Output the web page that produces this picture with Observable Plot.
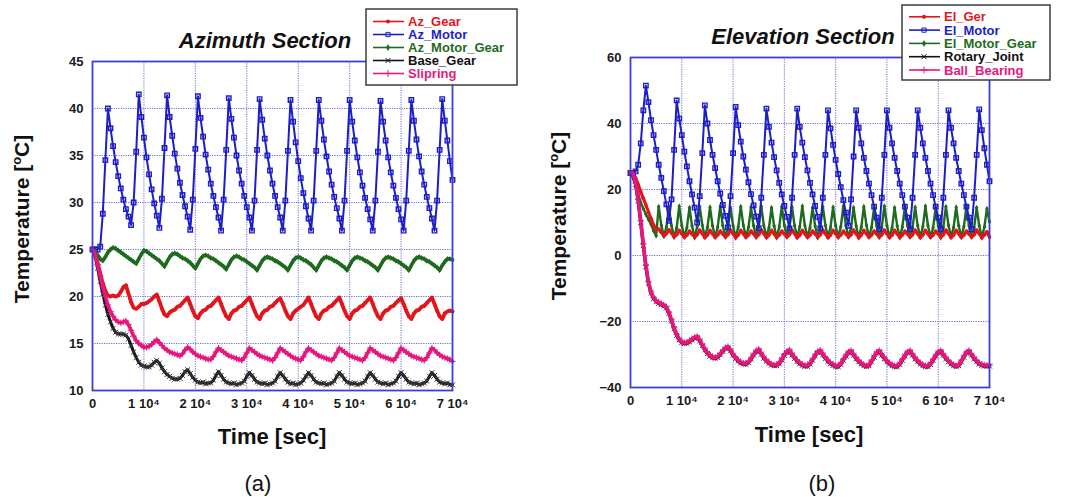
<!DOCTYPE html>
<html><head><meta charset="utf-8">
<script src="https://cdn.jsdelivr.net/npm/d3@7"></script>
<script src="https://cdn.jsdelivr.net/npm/@observablehq/plot@0.6"></script>
<style>
body{margin:0;background:#fff;}
#wrap{position:relative;width:1065px;height:497px;overflow:hidden;background:#fff;font-family:"Liberation Sans",Arial,sans-serif;}
#wrap > .panel{position:absolute;top:0;}
#overlay{position:absolute;left:0;top:0;pointer-events:none;}
</style>
</head><body>
<div id="wrap"></div>
<script>
// ---------- data ----------
const timeSec = [0,500,1000,1500,2000,2500,3000,3500,4000,4500,5000,5500,6000,6500,7000,7500,8000,8500,9000,9500,
10000,10500,11000,11500,12000,12500,13000,13500,14000,14500,15000,15500,16000,16500,17000,17500,18000,18500,19000,19500,
20000,20500,21000,21500,22000,22500,23000,23500,24000,24500,25000,25500,26000,26500,27000,27500,28000,28500,29000,29500,
30000,30500,31000,31500,32000,32500,33000,33500,34000,34500,35000,35500,36000,36500,37000,37500,38000,38500,39000,39500,
40000,40500,41000,41500,42000,42500,43000,43500,44000,44500,45000,45500,46000,46500,47000,47500,48000,48500,49000,49500,
50000,50500,51000,51500,52000,52500,53000,53500,54000,54500,55000,55500,56000,56500,57000,57500,58000,58500,59000,59500,
60000,60500,61000,61500,62000,62500,63000,63500,64000,64500,65000,65500,66000,66500,67000,67500,68000,68500,69000,69500,70000];

const azGear = [25.0,24.6,23.6,22.5,21.4,20.6,20.1,20.0,20.1,20.0,
20.1,20.5,21.0,21.2,20.3,19.4,18.8,18.7,18.9,19.2,
19.2,19.3,19.5,19.7,20.0,20.2,19.5,18.7,18.1,17.9,
18.3,18.5,18.6,18.9,19.0,19.3,19.6,19.9,19.2,18.5,
17.9,17.7,18.2,18.5,18.6,18.9,19.0,19.3,19.6,19.9,
19.2,18.5,17.9,17.6,18.2,18.5,18.6,18.9,19.0,19.3,
19.6,19.9,19.2,18.5,17.9,17.6,18.2,18.5,18.6,18.9,
19.0,19.3,19.6,19.8,19.2,18.5,17.9,17.6,18.2,18.5,
18.7,18.9,19.1,19.5,19.9,19.2,18.5,17.9,17.6,18.2,
18.5,18.6,18.9,19.0,19.3,19.6,19.9,19.2,18.5,17.9,
17.6,18.2,18.5,18.6,18.9,19.0,19.3,19.6,19.9,19.2,
18.5,17.9,17.6,18.2,18.5,18.6,18.9,19.0,19.3,19.6,
19.8,19.2,18.5,17.9,17.6,18.2,18.5,18.6,18.9,19.0,
19.3,19.6,19.9,19.2,18.5,17.9,17.6,18.2,18.4,18.5,18.4];

const azMotor = [25.0,25.0,25.0,25.3,28.8,34.5,40.0,37.9,36.0,34.3,
32.8,31.5,30.3,29.3,28.5,27.6,30.0,35.4,41.5,39.1,
36.9,34.8,33.0,31.4,29.9,28.6,27.3,30.4,35.8,41.4,
39.1,37.1,35.2,33.6,32.1,30.8,29.6,28.5,27.1,30.3,
35.7,41.3,39.0,37.0,35.1,33.5,32.0,30.7,29.5,28.4,
27.0,30.3,35.6,41.1,38.9,36.9,35.0,33.4,32.0,30.7,
29.5,28.4,27.0,30.2,35.6,41.0,38.8,36.8,35.0,33.4,
32.0,30.7,29.5,28.4,27.0,30.2,35.5,40.9,38.6,36.4,
34.4,32.6,31.0,29.6,28.3,27.0,30.2,35.5,40.9,38.7,
36.7,34.9,33.3,31.9,30.6,29.4,28.3,27.0,30.2,35.5,
40.9,38.6,36.6,34.8,33.2,31.8,30.5,29.3,28.2,27.0,
30.2,35.4,40.8,38.6,36.6,34.8,33.2,31.8,30.5,29.3,
28.2,27.0,30.2,35.5,40.9,38.7,36.7,34.9,33.3,31.9,
30.6,29.4,28.3,27.0,30.2,35.6,41.0,38.7,36.6,34.4,32.4];

const azMotorGear = [25.0,24.8,24.4,24.0,23.8,24.2,24.7,25.0,25.2,25.1,
24.9,24.7,24.5,24.3,24.1,23.9,23.7,23.5,24.0,24.5,
24.9,24.8,24.6,24.4,24.2,24.0,23.8,23.5,23.2,23.7,
24.2,24.5,24.6,24.5,24.3,24.1,24.0,23.8,23.6,23.3,
23.0,23.5,24.0,24.3,24.4,24.3,24.1,24.0,23.8,23.6,
23.4,23.2,22.9,23.4,23.9,24.2,24.3,24.2,24.0,23.9,
23.7,23.5,23.3,23.1,22.8,23.3,23.8,24.1,24.2,24.1,
24.0,23.8,23.7,23.5,23.3,23.1,22.8,23.3,23.8,24.1,
24.2,24.1,23.9,23.8,23.6,23.4,23.1,22.8,23.3,23.8,
24.1,24.2,24.1,24.0,23.8,23.7,23.5,23.3,23.1,22.8,
23.3,23.8,24.1,24.2,24.1,24.0,23.8,23.7,23.5,23.3,
23.1,22.8,23.3,23.8,24.1,24.2,24.1,24.0,23.8,23.7,
23.5,23.3,23.1,22.8,23.3,23.8,24.1,24.2,24.1,24.0,
23.8,23.7,23.5,23.3,23.1,22.8,23.3,23.7,24.0,24.0,23.9];

const baseGear = [25.0,24.3,23.0,21.6,20.3,19.1,18.1,17.3,16.6,16.2,
16.0,16.0,16.0,15.9,15.5,14.8,14.1,13.5,13.0,12.7,
12.6,12.5,12.5,12.7,13.0,13.2,12.9,12.4,12.0,11.7,
11.5,11.3,11.2,11.2,11.3,11.6,12.0,12.2,11.8,11.4,
11.1,10.9,10.8,10.9,10.7,10.8,10.8,11.1,11.6,12.0,
11.6,11.2,10.9,10.8,10.7,10.8,10.6,10.7,10.8,11.0,
11.5,11.9,11.6,11.2,10.9,10.8,10.7,10.8,10.6,10.7,
10.8,11.0,11.5,11.9,11.6,11.2,10.9,10.7,10.8,10.6,
10.7,10.8,11.1,11.5,11.9,11.6,11.2,10.9,10.8,10.7,
10.8,10.6,10.7,10.8,11.0,11.5,11.9,11.6,11.2,10.9,
10.8,10.7,10.8,10.6,10.7,10.8,11.0,11.5,11.9,11.6,
11.2,10.9,10.8,10.7,10.8,10.6,10.7,10.8,11.0,11.5,
11.9,11.6,11.2,10.9,10.8,10.7,10.8,10.6,10.7,10.8,
11.0,11.5,11.9,11.6,11.2,10.9,10.8,10.7,10.8,10.6,10.6];

const slipring = [25.0,24.5,23.4,22.2,21.0,20.0,19.1,18.4,17.9,17.5,
17.3,17.2,17.3,17.4,17.0,16.4,15.8,15.3,15.0,14.8,
14.6,14.6,14.7,14.9,15.2,15.4,15.1,14.8,14.5,14.3,
14.1,14.0,13.9,13.8,13.7,13.9,14.3,14.6,14.4,14.1,
13.9,13.7,13.6,13.5,13.4,13.3,13.3,13.6,14.1,14.5,
14.3,14.1,13.9,13.7,13.6,13.5,13.4,13.3,13.2,13.5,
14.0,14.5,14.3,14.1,13.9,13.7,13.6,13.5,13.4,13.3,
13.2,13.5,14.0,14.5,14.3,14.1,13.9,13.7,13.5,13.4,
13.3,13.2,13.6,14.1,14.5,14.3,14.1,13.9,13.7,13.6,
13.5,13.4,13.3,13.2,13.5,14.0,14.5,14.3,14.1,13.9,
13.7,13.6,13.5,13.4,13.3,13.2,13.5,14.0,14.5,14.3,
14.1,13.9,13.7,13.6,13.5,13.4,13.3,13.2,13.5,14.0,
14.5,14.3,14.1,13.9,13.7,13.6,13.5,13.4,13.3,13.2,
13.5,14.0,14.5,14.3,14.0,13.8,13.6,13.5,13.4,13.3,13.1];

const elGer = [25.0,24.6,23.5,21.5,19.3,17.3,15.3,13.2,11.2,9.2,
7.8,8.0,7.0,6.0,6.6,7.8,6.8,5.7,6.3,7.6,
6.6,5.5,6.2,7.4,6.5,5.6,6.3,7.7,6.6,5.4,
6.2,7.6,6.6,5.5,6.2,7.4,6.5,5.6,6.3,7.7,
6.6,5.4,6.2,7.6,6.6,5.5,6.2,7.4,6.5,5.6,
6.3,7.7,6.6,5.4,6.2,7.6,6.6,5.5,6.2,7.4,
6.5,5.6,6.3,7.7,6.6,5.4,6.2,7.6,6.6,5.5,
6.2,7.4,6.5,5.6,6.3,7.7,6.6,5.4,6.2,7.6,
6.6,5.5,6.2,7.4,6.5,5.6,6.3,7.7,6.6,5.4,
6.2,7.6,6.6,5.5,6.2,7.4,6.5,5.6,6.3,7.7,
6.6,5.4,6.2,7.6,6.6,5.5,6.2,7.4,6.5,5.6,
6.3,7.7,6.6,5.4,6.2,7.6,6.6,5.5,6.2,7.4,
6.5,5.6,6.3,7.7,6.6,5.4,6.2,7.6,6.6,5.5,
6.2,7.4,6.5,5.6,6.3,7.7,6.6,5.4,6.2,7.2,5.6];

const elMotor = [25.0,25.0,25.5,27.5,34.0,44.0,51.5,46.5,41.0,36.5,
32.0,27.5,23.5,19.5,15.5,10.5,17.0,32.0,47.0,41.5,
36.5,31.5,27.0,22.5,18.5,14.5,10.0,18.0,31.0,45.5,
40.0,35.0,30.5,26.5,22.5,18.8,15.3,12.0,8.5,18.0,
31.0,45.0,39.5,34.5,30.0,26.0,22.2,18.6,15.2,11.8,
8.3,17.5,30.5,44.5,39.0,34.2,29.8,25.8,22.0,18.5,
15.0,11.7,8.2,17.5,30.5,44.5,39.0,34.2,29.8,25.8,
22.0,18.5,15.0,11.7,8.2,17.5,30.5,44.0,38.5,33.5,
29.0,24.7,20.7,16.8,13.0,9.0,17.0,30.0,44.0,38.7,
34.0,29.6,25.6,21.8,18.3,14.8,11.5,8.0,17.5,30.5,
44.0,38.7,34.0,29.6,25.6,21.8,18.3,14.8,11.5,8.0,
17.5,30.5,44.0,38.7,34.0,29.6,25.6,21.8,18.3,14.8,
11.5,8.0,17.5,30.5,44.0,38.7,34.0,29.6,25.6,21.8,
18.3,14.8,11.5,8.0,17.5,30.5,44.3,38.0,32.5,27.5,22.5];

const elMotorGear = [25.0,23.5,21.0,18.5,16.0,14.2,12.5,11.0,9.5,7.5,
6.0,14.8,9.2,5.8,8.6,14.6,9.0,5.5,8.4,14.9,
9.1,5.6,8.5,14.5,9.0,5.4,8.7,14.8,9.2,5.6,
8.5,14.6,9.0,5.5,8.6,14.9,9.1,5.6,8.4,14.5,
9.0,5.4,8.6,14.8,9.2,5.6,8.5,14.6,9.0,5.5,
8.7,14.9,9.1,5.6,8.4,14.5,9.0,5.4,8.6,14.8,
9.2,5.6,8.5,14.6,9.0,5.5,8.7,14.9,9.1,5.6,
8.4,14.5,9.0,5.4,8.6,14.8,9.2,5.6,8.5,14.6,
9.0,5.5,8.7,14.9,9.1,5.6,8.4,14.5,9.0,5.4,
8.6,14.8,9.2,5.6,8.5,14.6,9.0,5.5,8.7,14.9,
9.1,5.6,8.4,14.5,9.0,5.4,8.6,14.8,9.2,5.6,
8.5,14.6,9.0,5.5,8.7,14.9,9.1,5.6,8.4,14.5,
9.0,5.4,8.6,14.8,9.2,5.6,8.5,14.6,9.0,5.5,
8.7,14.9,9.1,5.6,8.4,14.5,9.0,5.4,8.6,14.2,10.2];

const rotaryJoint = [25.0,24.5,21.6,16.5,10.0,3.0,-3.4,-8.4,-11.3,-13.1,
-14.0,-14.5,-14.9,-15.3,-15.9,-17.5,-19.8,-22.2,-24.2,-25.6,
-26.4,-26.7,-26.6,-26.2,-25.6,-25.1,-24.8,-25.9,-27.3,-28.6,
-29.7,-30.5,-31.0,-31.2,-30.9,-30.1,-29.1,-28.3,-27.9,-28.9,
-30.2,-31.2,-32.0,-32.6,-32.9,-33.0,-32.5,-31.4,-30.2,-29.2,
-28.7,-29.9,-31.1,-32.0,-32.7,-33.2,-33.4,-33.4,-32.8,-31.6,
-30.3,-29.4,-28.9,-30.1,-31.2,-32.1,-32.8,-33.3,-33.6,-33.6,
-32.9,-31.7,-30.4,-29.4,-29.0,-30.1,-31.2,-32.1,-32.8,-33.3,
-33.7,-33.7,-33.0,-31.8,-30.5,-29.5,-29.1,-30.2,-31.3,-32.2,
-32.9,-33.4,-33.7,-33.4,-32.2,-30.8,-29.6,-29.1,-30.2,-31.3,
-32.2,-32.9,-33.4,-33.7,-33.7,-33.0,-31.8,-30.5,-29.5,-29.1,
-30.2,-31.3,-32.2,-32.9,-33.4,-33.7,-33.7,-33.0,-31.8,-30.5,
-29.5,-29.1,-30.2,-31.3,-32.2,-32.9,-33.4,-33.7,-33.4,-32.2,
-30.8,-29.6,-29.1,-30.2,-31.3,-32.2,-32.9,-33.3,-33.5,-33.6,-33.5];

const ballBearing = [25.2,24.8,22.0,17.0,10.5,3.5,-3.0,-8.0,-11.0,-12.8,
-13.7,-14.2,-14.6,-15.0,-15.6,-17.2,-19.5,-21.9,-23.9,-25.3,
-26.1,-26.4,-26.3,-25.9,-25.3,-24.8,-24.5,-25.6,-27.0,-28.3,
-29.4,-30.2,-30.7,-30.9,-30.6,-29.8,-28.8,-28.0,-27.6,-28.6,
-29.9,-30.9,-31.7,-32.3,-32.6,-32.7,-32.2,-31.1,-29.9,-28.9,
-28.4,-29.6,-30.8,-31.7,-32.4,-32.9,-33.1,-33.1,-32.5,-31.3,
-30.0,-29.1,-28.6,-29.8,-30.9,-31.8,-32.5,-33.0,-33.3,-33.3,
-32.6,-31.4,-30.1,-29.1,-28.7,-29.8,-30.9,-31.8,-32.5,-33.0,
-33.4,-33.4,-32.7,-31.5,-30.2,-29.2,-28.8,-29.9,-31.0,-31.9,
-32.6,-33.1,-33.4,-33.1,-31.9,-30.5,-29.3,-28.8,-29.9,-31.0,
-31.9,-32.6,-33.1,-33.4,-33.4,-32.7,-31.5,-30.2,-29.2,-28.8,
-29.9,-31.0,-31.9,-32.6,-33.1,-33.4,-33.4,-32.7,-31.5,-30.2,
-29.2,-28.8,-29.9,-31.0,-31.9,-32.6,-33.1,-33.4,-33.1,-31.9,
-30.5,-29.3,-28.8,-29.9,-31.0,-31.9,-32.6,-33.0,-33.2,-33.3,-33.2];

const xTicks = [0,10000,20000,30000,40000,50000,60000,70000];
const xTickLabels = ["0","1 10\u2074","2 10\u2074","3 10\u2074","4 10\u2074","5 10\u2074","6 10\u2074","7 10\u2074"];
const azYTicks = [10,15,20,25,30,35,40,45];
const elYTicks = [-40,-20,0,20,40,60];

const azNames = ["Az_Gear","Az_Motor","Az_Motor_Gear","Base_Gear","Slipring"];
const elNames = ["El_Ger","El_Motor","El_Motor_Gear","Rotary_Joint","Ball_Bearing"];
const seriesColors = ["#e3151b","#1e1ec8","#1e6a1e","#111111","#e6177e"];
const seriesSymbols = ["circle","square","diamond","times","plus"];

// ---------- drawing ----------
const gridColor = "#6b6be0";
const frameColor = "#3d3dd4";
const FONT = '"Liberation Sans", Arial, sans-serif';

function rowsOf(values){ return timeSec.map((t,i)=>({t, v: values[i]})); }

function makePanel(p){
  const marks = [
    Plot.gridX(xTicks, {stroke: gridColor, strokeOpacity: 1, strokeWidth: 1, strokeDasharray: "1.2,1.2"}),
    Plot.gridY(p.yTicks, {stroke: gridColor, strokeOpacity: 1, strokeWidth: 1, strokeDasharray: "1.2,1.2"})
  ];
  p.order.forEach(k => {
    const rows = rowsOf(p.values[k]);
    const col = seriesColors[k];
    const sym = seriesSymbols[k];
    marks.push(Plot.line(rows, {x: "t", y: "v", stroke: col, strokeWidth: p.lineWidths[k], strokeLinejoin: "round"}));
    const filled = (sym === "circle" || sym === "diamond");
    marks.push(Plot.dot(rows, {x: "t", y: "v", symbol: sym, r: p.dotR[k],
      fill: filled ? col : "none", stroke: filled ? "none" : (k === 3 ? "#3a3a3a" : col), strokeWidth: k === 1 ? 1.4 : 1}));
  });
  marks.push(Plot.frame({stroke: frameColor, strokeWidth: 1.8}));
  marks.push(Plot.axisX(xTicks, {tickSize: 0, tickPadding: 8, label: null,
    tickFormat: d => xTickLabels[xTicks.indexOf(d)]}));
  marks.push(Plot.axisY(p.yTicks, {tickSize: 0, tickPadding: 9, label: null}));
  const svg = Plot.plot({
    width: 530, height: 497,
    marginTop: p.mt, marginRight: p.mr, marginBottom: p.mb, marginLeft: p.ml,
    x: {domain: [0, 70000]},
    y: {domain: p.yDomain},
    style: {fontFamily: FONT, fontSize: "13px", fontWeight: "bold", color: "#1a1a1a", background: "transparent", overflow: "visible"},
    marks
  });
  svg.classList.add("panel");
  svg.style.position = "absolute";
  svg.style.left = p.left + "px";
  svg.style.top = "0px";
  return svg;
}

const wrap = document.getElementById("wrap");

wrap.appendChild(makePanel({
  left: 0, ml: 92, mr: 78, mt: 61, mb: 107,
  yDomain: [10, 45], yTicks: azYTicks,
  values: [azGear, azMotor, azMotorGear, baseGear, slipring],
  order: [0, 1, 2, 3, 4],
  lineWidths: [3.8, 2.0, 3.6, 3.0, 3.6],
  dotR: [1.8, 2.5, 1.8, 2.4, 2.2]
}));

wrap.appendChild(makePanel({
  left: 535, ml: 95, mr: 76, mt: 57, mb: 110,
  yDomain: [-40, 60], yTicks: elYTicks,
  values: [elGer, elMotor, elMotorGear, rotaryJoint, ballBearing],
  order: [2, 0, 1, 3, 4],
  lineWidths: [3.2, 2.0, 2.4, 3.4, 3.6],
  dotR: [1.8, 2.5, 1.8, 2.4, 2.2]
}));

// ---------- overlay texts & legends ----------
const ov = d3.select(wrap).append("svg").attr("id", "overlay")
  .attr("width", 1065).attr("height", 497)
  .style("font-family", FONT);

function title(x, y, txt){
  ov.append("text").attr("x", x).attr("y", y).attr("text-anchor", "middle")
    .attr("font-size", 22).attr("font-weight", "bold").attr("font-style", "italic")
    .attr("fill", "#111").text(txt);
}
title(265, 48, "Azimuth Section");
title(803, 44, "Elevation Section");

function ylab(x, y){
  const t = ov.append("text").attr("transform", `translate(${x},${y}) rotate(-90)`)
    .attr("text-anchor", "middle").attr("font-size", 21).attr("font-weight", "bold").attr("fill", "#111");
  t.append("tspan").text("Temperature [");
  t.append("tspan").attr("dy", -8).attr("font-size", 13).text("o");
  t.append("tspan").attr("dy", 8).text("C]");
}
ylab(29, 219);
ylab(566, 216);

function xlab(x, y){
  ov.append("text").attr("x", x).attr("y", y).attr("text-anchor", "middle")
    .attr("font-size", 22).attr("font-weight", "bold").attr("fill", "#111").text("Time [sec]");
}
xlab(272, 444);
xlab(809, 442);

function sub(x, y, txt){
  ov.append("text").attr("x", x).attr("y", y).attr("text-anchor", "middle")
    .attr("font-size", 22).attr("fill", "#111").text(txt);
}
sub(258, 491, "(a)");
sub(822, 491, "(b)");

const symMap = {circle: d3.symbolCircle, square: d3.symbolSquare, diamond: d3.symbolDiamond, times: d3.symbolTimes, plus: d3.symbolPlus};

function legend(bx, by, bw, bh, names, rowY0, rowStep){
  const g = ov.append("g");
  g.append("rect").attr("x", bx).attr("y", by).attr("width", bw).attr("height", bh)
    .attr("fill", "#fff").attr("stroke", "#3c3c3c").attr("stroke-width", 1.5);
  names.forEach((nm, k) => {
    const cy = rowY0 + k * rowStep;
    const col = seriesColors[k];
    g.append("line").attr("x1", bx + 7).attr("x2", bx + 38).attr("y1", cy).attr("y2", cy)
      .attr("stroke", col).attr("stroke-width", 1.6);
    const sym = seriesSymbols[k];
    const filled = (sym === "circle" || sym === "diamond");
    g.append("path").attr("transform", `translate(${bx + 22},${cy})`)
      .attr("d", d3.symbol(symMap[sym], filled ? 14 : 18)())
      .attr("fill", filled ? col : "none").attr("stroke", filled ? "none" : col).attr("stroke-width", 1);
    g.append("text").attr("x", bx + 42).attr("y", cy + 4.6)
      .attr("font-size", 13).attr("font-weight", "bold").attr("fill", col).text(nm);
  });
}
legend(366, 9, 151, 76, azNames, 21.5, 13);
legend(902, 5, 148, 75, elNames, 16.8, 13.3);
</script>
</body></html>
